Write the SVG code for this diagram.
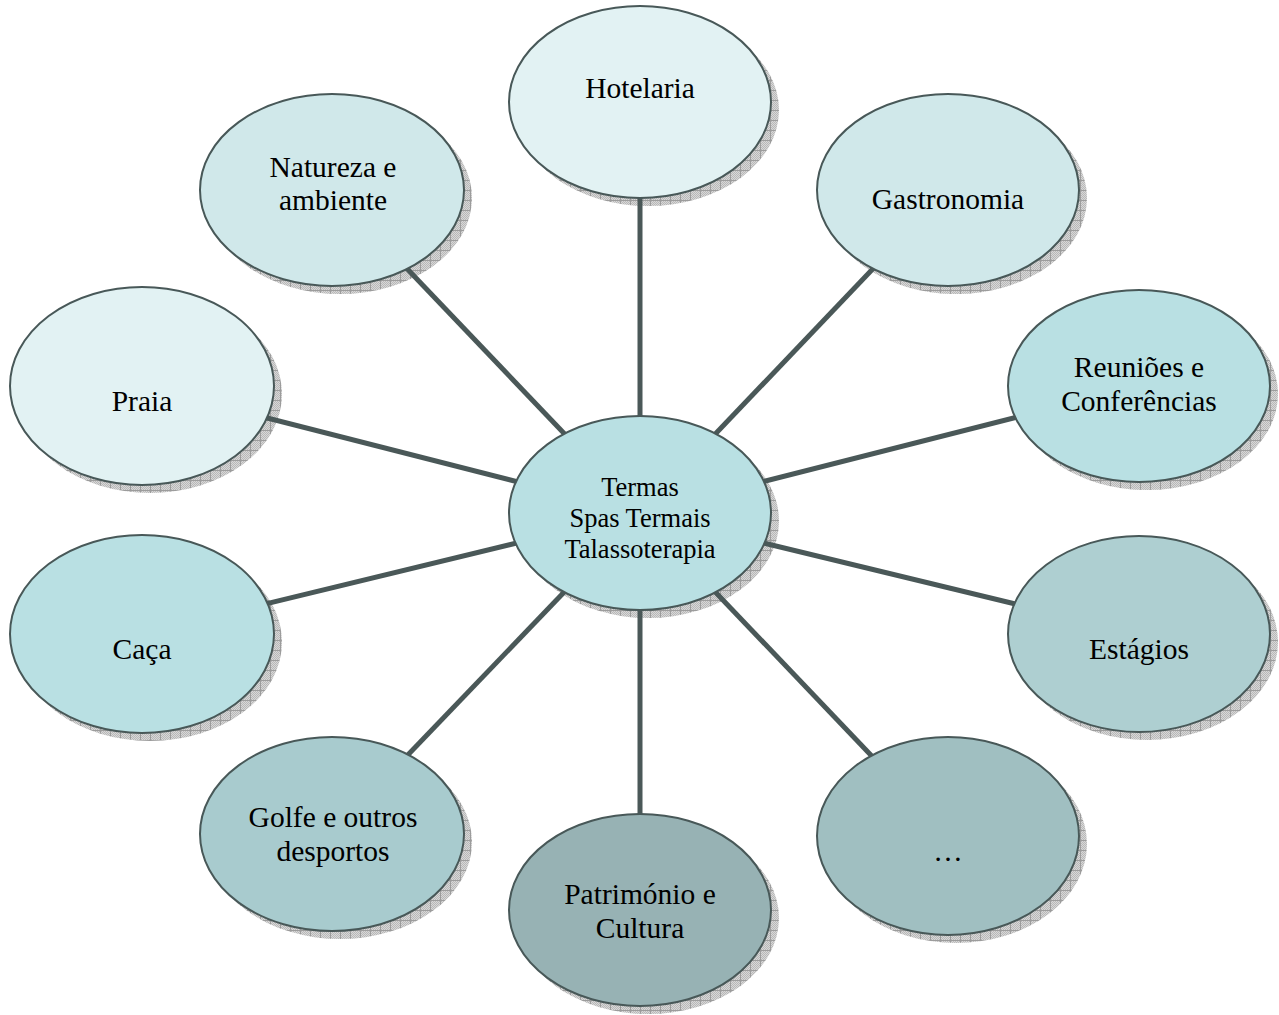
<svg xmlns="http://www.w3.org/2000/svg" width="1279" height="1015" viewBox="0 0 1279 1015">
  <style>
    .bubble { stroke: #485858; stroke-width: 2; }
    .shade { fill: url(#hatch); }
    .label { font-family: "Liberation Serif", "Times New Roman", serif; font-size: 29.5px; fill: #000; text-anchor: middle; }
    .hub { font-size: 26.5px; }
    .link { stroke: #4a5858; stroke-width: 5; fill: none; }
  </style>
  <defs>
    <!-- fine dither under the shadow grid -->
    <pattern id="dither" width="2" height="2" patternUnits="userSpaceOnUse">
      <rect width="2" height="2" fill="#d8d8d8"/>
      <rect width="1" height="1" fill="#b8b8b8"/>
      <rect x="1" y="1" width="1" height="1" fill="#b8b8b8"/>
    </pattern>
    <!-- cross-hatched drop shadow -->
    <pattern id="hatch" width="10" height="10" patternUnits="userSpaceOnUse">
      <rect width="10" height="10" fill="url(#dither)"/>
      <path d="M0 0.5H10M0.5 0V10" stroke="#9c9c9c" stroke-width="1"/>
    </pattern>
  </defs>

  <rect width="1279" height="1015" fill="#ffffff"/>

  <!-- drop shadows, offset down and right -->
  <g id="shadows" class="shade">
    <ellipse cx="648" cy="110" rx="131" ry="96"/>
    <ellipse cx="956" cy="198" rx="131" ry="96"/>
    <ellipse cx="1147" cy="394" rx="131" ry="96"/>
    <ellipse cx="1147" cy="642" rx="131" ry="98"/>
    <ellipse cx="956" cy="844" rx="131" ry="99"/>
    <ellipse cx="648" cy="918" rx="131" ry="96"/>
    <ellipse cx="340" cy="842" rx="132" ry="97"/>
    <ellipse cx="150" cy="642" rx="132" ry="99"/>
    <ellipse cx="150" cy="394" rx="132" ry="99"/>
    <ellipse cx="340" cy="198" rx="132" ry="96"/>
    <ellipse cx="648" cy="521" rx="131" ry="97"/>
  </g>

  <!-- spokes from the hub to each satellite -->
  <g id="connectors" class="link">
    <line x1="640" y1="513" x2="640" y2="102"/>
    <line x1="640" y1="513" x2="948" y2="190"/>
    <line x1="640" y1="513" x2="1139" y2="386"/>
    <line x1="640" y1="513" x2="1139" y2="634"/>
    <line x1="640" y1="513" x2="948" y2="836"/>
    <line x1="640" y1="513" x2="640" y2="910"/>
    <line x1="640" y1="513" x2="332" y2="834"/>
    <line x1="640" y1="513" x2="142" y2="634"/>
    <line x1="640" y1="513" x2="142" y2="386"/>
    <line x1="640" y1="513" x2="332" y2="190"/>
  </g>

  <g id="hotelaria">
    <ellipse class="bubble" cx="640" cy="102" rx="131" ry="96" fill="#e2f2f3"/>
    <text class="label" x="640" y="98">Hotelaria</text>
  </g>

  <g id="gastronomia">
    <ellipse class="bubble" cx="948" cy="190" rx="131" ry="96" fill="#d0e8ea"/>
    <text class="label" x="948" y="209">Gastronomia</text>
  </g>

  <g id="reunioes">
    <ellipse class="bubble" cx="1139" cy="386" rx="131" ry="96" fill="#b9e0e3"/>
    <text class="label" x="1139" y="377">Reuniões e</text>
    <text class="label" x="1139" y="411">Conferências</text>
  </g>

  <g id="estagios">
    <ellipse class="bubble" cx="1139" cy="634" rx="131" ry="98" fill="#aecfd1"/>
    <text class="label" x="1139" y="659">Estágios</text>
  </g>

  <g id="outros">
    <ellipse class="bubble" cx="948" cy="836" rx="131" ry="99" fill="#a0bfc1"/>
    <text class="label" x="948" y="861">…</text>
  </g>

  <g id="patrimonio">
    <ellipse class="bubble" cx="640" cy="910" rx="131" ry="96" fill="#97b2b4"/>
    <text class="label" x="640" y="904">Património e</text>
    <text class="label" x="640" y="938">Cultura</text>
  </g>

  <g id="golfe">
    <ellipse class="bubble" cx="332" cy="834" rx="132" ry="97" fill="#a8cbce"/>
    <text class="label" x="333" y="827">Golfe e outros</text>
    <text class="label" x="333" y="861">desportos</text>
  </g>

  <g id="caca">
    <ellipse class="bubble" cx="142" cy="634" rx="132" ry="99" fill="#b9e0e3"/>
    <text class="label" x="142" y="659">Caça</text>
  </g>

  <g id="praia">
    <ellipse class="bubble" cx="142" cy="386" rx="132" ry="99" fill="#e2f2f3"/>
    <text class="label" x="142" y="411">Praia</text>
  </g>

  <g id="natureza">
    <ellipse class="bubble" cx="332" cy="190" rx="132" ry="96" fill="#d0e8ea"/>
    <text class="label" x="333" y="177">Natureza e</text>
    <text class="label" x="333" y="210">ambiente</text>
  </g>

  <g id="termas">
    <ellipse class="bubble" cx="640" cy="513" rx="131" ry="97" fill="#b9e0e3"/>
    <text class="label hub" x="640" y="496">Termas</text>
    <text class="label hub" x="640" y="527">Spas Termais</text>
    <text class="label hub" x="640" y="558">Talassoterapia</text>
  </g>
</svg>
